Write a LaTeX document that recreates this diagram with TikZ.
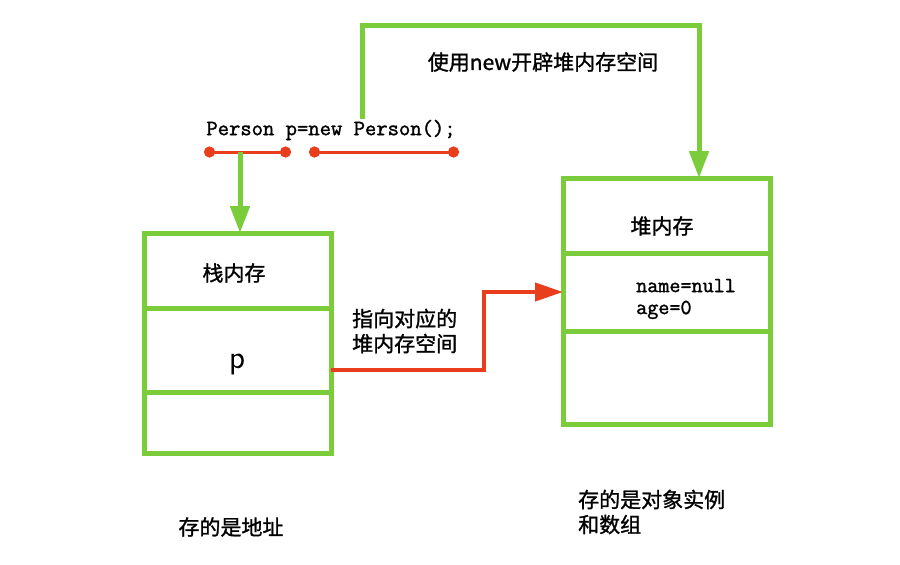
\documentclass[tikz,border=0pt]{standalone}
\usepackage{fontspec}
\setmainfont{Liberation Sans}
\newfontfamily\cjk{Noto Sans CJK SC}[FakeBold=1.2]
\newfontfamily\codefont{Latin Modern Mono}[FakeBold=1.5]
\usetikzlibrary{arrows.meta, positioning}
\definecolor{boxgreen}{RGB}{122,204,58}
\definecolor{refred}{RGB}{232,62,30}

\begin{document}
\begin{tikzpicture}[x=1pt, y=-1pt,
    cell/.style={draw=boxgreen, line width=5pt, minimum width=#1, inner sep=0pt, outer sep=0pt},
    cjklabel/.style={font=\cjk\fontsize{21}{25}\selectfont, inner sep=0pt},
    codetext/.style={font=\codefont\fontsize{21.5}{22}\selectfont, inner sep=0pt},
    greenarrow/.style={draw=boxgreen, line width=5pt, -{Triangle[width=19pt, length=27pt]}},
    redarrow/.style={draw=refred, line width=4pt, -{Triangle[width=18pt, length=28pt]}},
    declline/.style={draw=refred, line width=3pt, {Circle[length=11pt]}-{Circle[length=11pt]}}]
			\useasboundingbox (0,0) rectangle (900,565);

			% the statement and its two parts
			\node[codetext, font=\codefont\fontsize{22}{22}\selectfont] (decl) at (331,130) {Person p=new Person();};
			\coordinate (declA) at (204,152);
			\coordinate (declB) at (291,152);
			\coordinate (declC) at (309,152);
			\coordinate (declD) at (459,152);
			\coordinate (declMid) at (240,152);
			\draw[declline] (declA) -- (declB);
			\draw[declline] (declC) -- (declD);

			% stack memory
			\node[cell=187pt, minimum height=75pt] (stack1) at (237.5,270.5) {};
			\node[cell=187pt, minimum height=84pt, below=0pt of stack1] (stack2) {};
			\node[cell=187pt, minimum height=61pt, below=0pt of stack2] (stack3) {};
			\node[cjklabel] (stackTitle) at (234,273) {栈内存};
			\node[font=\sffamily\fontsize{33}{33}\selectfont, inner sep=0pt] (pName) at (237,364) {p};

			% heap memory
			\node[cell=207pt, minimum height=75pt] (heap1) at (666.5,215.5) {};
			\node[cell=207pt, minimum height=78pt, below=0pt of heap1] (heap2) {};
			\node[cell=207pt, minimum height=93pt, below=0pt of heap2] (heap3) {};
			\node[cjklabel] (heapTitle) at (662,226) {堆内存};
			\node[codetext, align=left, anchor=west] (fields) at (636,299) {name=null\\age=0};

			% new opens heap space
			\coordinate (newStart) at (362,119);
			\coordinate (newUp) at (362,25);
			\coordinate (newRight) at (699,25);
			\draw[greenarrow] (newStart) -- (newUp) -- (newRight) -- (newRight |- heap1.north);
			\node[cjklabel] (newLabel) at (543,62) {使用new开辟堆内存空间};

			% p gets the reference
			\draw[greenarrow] (declMid) -- (declMid |- stack1.north);

			% p points to the object
			\draw[redarrow] ([yshift=-20pt]stack2.east) -- ++(153,0) |- (heap2.west);
			\node[cjklabel, align=left, anchor=west] (pointLabel) at (352,331) {指向对应的\\堆内存空间};

			% notes under the boxes
			\node[cjklabel] (stackNote) at (231,527) {存的是地址};
			\node[cjklabel, align=left, anchor=west] (heapNote) at (578,512) {存的是对象实例\\和数组};
		\end{tikzpicture}
\end{document}
